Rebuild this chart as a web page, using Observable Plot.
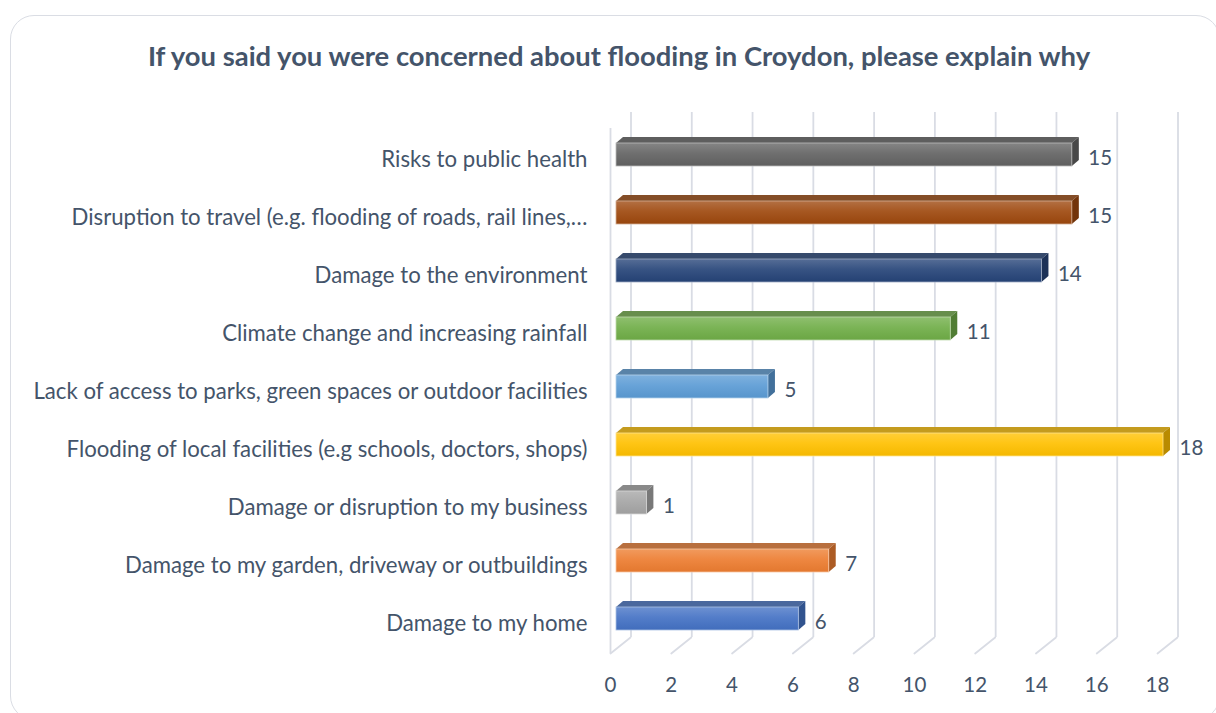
<!DOCTYPE html>
<html>
<head>
<meta charset="utf-8">
<script src="https://cdn.jsdelivr.net/npm/d3@7"></script>
<script src="https://cdn.jsdelivr.net/npm/@observablehq/plot@0.6"></script>
<style>
  html, body { margin: 0; padding: 0; background: #fff; width: 1216px; height: 713px; overflow: hidden; }
  #frame { position: absolute; left: 10px; top: 15px; width: 1210px; height: 705px; border: 1.5px solid #dadde4; border-radius: 24px; box-sizing: border-box; }
  #title { position: absolute; left: 0; top: 40px; width: 1238px; text-align: center; font-family: Lato, sans-serif; font-weight: 700; font-size: 27.4px; line-height: 1.2; color: #44546a; white-space: nowrap; }
  #chart { position: absolute; left: 0; top: 85px; }
</style>
</head>
<body>
<div id="frame"></div>
<div id="title">If you said you were concerned about flooding in Croydon, please explain why</div>
<div id="chart"></div>
<script>
// ---- data ----
const categories = [
  "Risks to public health",
  "Disruption to travel (e.g. flooding of roads, rail lines,…",
  "Damage to the environment",
  "Climate change and increasing rainfall",
  "Lack of access to parks, green spaces or outdoor facilities",
  "Flooding of local facilities (e.g schools, doctors, shops)",
  "Damage or disruption to my business",
  "Damage to my garden, driveway or outbuildings",
  "Damage to my home"
];
const counts = [15, 15, 14, 11, 5, 18, 1, 7, 6];
const xTicks = [0, 2, 4, 6, 8, 10, 12, 14, 16, 18];

// ---- styles ----
const barColors = ["#636363", "#9e480e", "#264478", "#70ad47", "#5b9bd5", "#ffc000", "#a5a5a5", "#ed7d31", "#4472c4"];
const textColor = "#44546a";
const gridColor = "#d9dce4";

const rows = categories.map((c, i) => ({category: c, value: counts[i], color: barColors[i]}));

const FRONT_DX = 6;   // front face offset from axis
const DEPTH_X = 7, DEPTH_Y = 6; // bar depth
const WALL_X = 20.5; // chart depth

function bars3d(index, scales, values, dimensions, context) {
  const g = d3.create("svg:g");
  const defs = g.append("defs");
  const yS = scales.y;
  const bw = typeof yS.bandwidth === "function" ? yS.bandwidth() : yS.bandwidth;
  for (const i of index) {
    const d = rows[i];
    const base = d3.color(d.color);
    const x0 = scales.x(0) + FRONT_DX;
    const x1 = scales.x(d.value) + FRONT_DX;
    const yt = yS(d.category);
    const yb = yt + bw;
    const id = "fgrad" + i;
    const lg = defs.append("linearGradient").attr("id", id).attr("x1", 0).attr("y1", 0).attr("x2", 0).attr("y2", 1);
    lg.append("stop").attr("offset", "0%").attr("stop-color", d3.interpolateRgb(base, "#ffffff")(0.22));
    lg.append("stop").attr("offset", "45%").attr("stop-color", d3.interpolateRgb(base, "#ffffff")(0.08));
    lg.append("stop").attr("offset", "100%").attr("stop-color", base.darker(0.12).formatHex());
    const topC = d3.interpolateRgb(base, "#555555")(0.35);
    const sideC = base.darker(0.9).formatHex();
    g.append("path")
      .attr("d", `M${x0},${yt}L${x0 + DEPTH_X},${yt - DEPTH_Y}L${x1 + DEPTH_X},${yt - DEPTH_Y}L${x1},${yt}Z`)
      .attr("fill", topC);
    g.append("path")
      .attr("d", `M${x1},${yt}L${x1 + DEPTH_X},${yt - DEPTH_Y}L${x1 + DEPTH_X},${yb - DEPTH_Y}L${x1},${yb}Z`)
      .attr("fill", sideC);
    g.append("rect")
      .attr("x", x0).attr("y", yt).attr("width", Math.max(0, x1 - x0)).attr("height", bw)
      .attr("fill", `url(#${id})`)
      .attr("stroke", d3.interpolateRgb(base, "#ffffff")(0.55))
      .attr("stroke-width", 0.8);
  }
  return g.node();
}

const diagShape = {draw(context, l) { context.moveTo(0, 0); context.lineTo(0, -l); }};

const chart = Plot.plot({
  width: 1216,
  height: 628,
  marginLeft: 610,
  marginRight: 59,
  marginTop: 39.4,
  marginBottom: 64.9,
  style: {fontFamily: "Lato, sans-serif", fontSize: "20px", color: textColor, background: "transparent", overflow: "visible"},
  x: {domain: [0, 18], axis: null},
  y: {domain: categories, paddingInner: 0.6, paddingOuter: 0.3, axis: null},
  marks: [
    Plot.ruleX(xTicks, {x: d => d, dx: WALL_X, insetTop: -12.4, insetBottom: 11.1, stroke: gridColor, strokeWidth: 1.8}),
    Plot.ruleX([0], {x: d => d, insetTop: 3.6, insetBottom: -4.9, stroke: gridColor, strokeWidth: 1.8}),
    Plot.vector(xTicks, {x: d => d, frameAnchor: "bottom", dy: 4.9, length: 25.6, rotate: 51.3, anchor: "start", shape: diagShape, stroke: gridColor, strokeWidth: 1.8}),
    Plot.barX(rows, {x: "value", y: "category", render: bars3d}),
    Plot.text(rows, {x: "value", y: "category", text: d => String(d.value), dx: 22, dy: 3, textAnchor: "start", fill: textColor, fontSize: 20.5}),
    Plot.text(rows, {y: "category", text: "category", frameAnchor: "left", textAnchor: "end", dx: -23, dy: 4.5, fill: textColor, fontSize: 22.2}),
    Plot.axisX(xTicks, {tickSize: 0, tickPadding: 29, fill: textColor, fontSize: 20.5, label: null})
  ]
});
document.getElementById("chart").appendChild(chart);
</script>
</body>
</html>
